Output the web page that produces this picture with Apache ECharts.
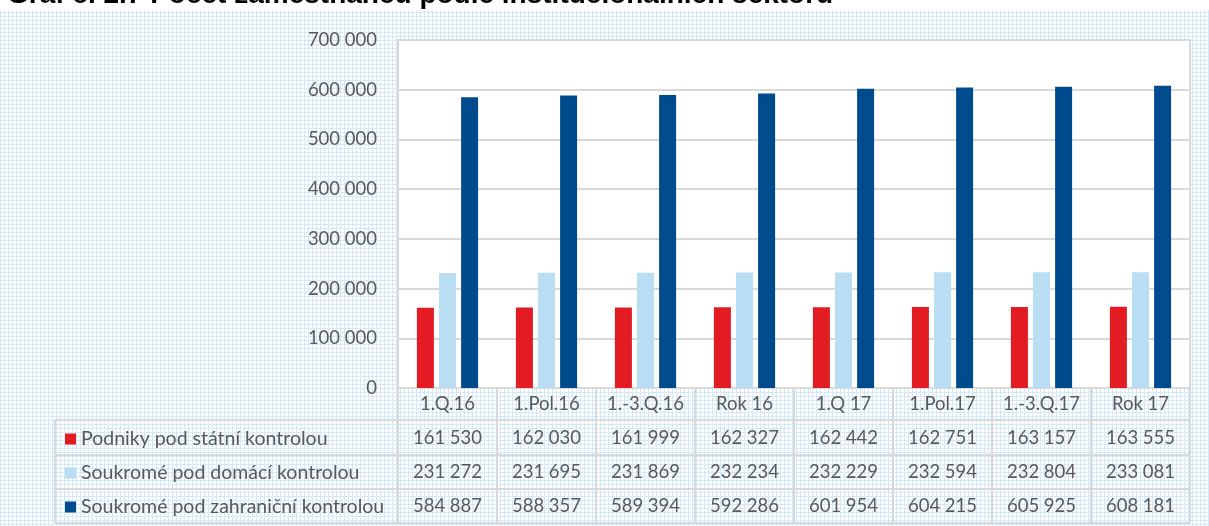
<!DOCTYPE html>
<html>
<head>
<meta charset="utf-8">
<script src="https://cdn.jsdelivr.net/npm/echarts@6/dist/echarts.min.js"></script>
<style>html,body{margin:0;padding:0;}#c{width:1209px;height:526px;}</style>
</head>
<body>
<div id="c"></div>
<script>
const categories = ['1.Q.16','1.Pol.16','1.-3.Q.16','Rok 16','1.Q 17','1.Pol.17','1.-3.Q.17','Rok 17'];
const seriesNames = ['Podniky pod státní kontrolou','Soukromé pod domácí kontrolou','Soukromé pod zahraniční kontrolou'];
const stateCtrl = [161530,162030,161999,162327,162442,162751,163157,163555];
const domesticCtrl = [231272,231695,231869,232234,232229,232594,232804,233081];
const foreignCtrl = [584887,588357,589394,592286,601954,604215,605925,608181];
const titleText = 'Graf č. 2.7 Počet zaměstnanců podle institucionálních sektorů';

const FONT = 'Lato';
const TXT = '#595959';
const LINE = '#d9d9d9';
const colors = ['#e31b23','#b9ddf3','#004b8d'];
const fmt = v => String(v).replace(/\B(?=(\d{3})+(?!\d))/g, ' ');

// background pattern tile
const tile = document.createElement('canvas');
tile.width = 4; tile.height = 4;
const tc = tile.getContext('2d');
tc.fillStyle = '#ffffff'; tc.fillRect(0,0,4,4);
tc.fillStyle = '#d3e8f8'; tc.fillRect(0,0,4,1); tc.fillRect(0,0,1,4);

const G = {left:398, right:1190, top:40, bottom:388};
const rowY = [420, 455, 489, 523];
const tableLeft = 55;

const chart = echarts.init(document.getElementById('c'), null, {renderer:'canvas'});
const gfx = [];
gfx.push({type:'rect', shape:{x:0, y:0, width:1209, height:10}, style:{fill:'#ffffff'}, z:1});
rowY.forEach(y => gfx.push({type:'line', shape:{x1:tableLeft, y1:y, x2:G.right, y2:y}, style:{stroke:LINE, lineWidth:2}, z:10}));
gfx.push({type:'line', shape:{x1:tableLeft, y1:rowY[0], x2:tableLeft, y2:rowY[3]}, style:{stroke:LINE, lineWidth:2}, z:10});
gfx.push({type:'line', shape:{x1:G.left, y1:G.bottom, x2:G.left, y2:rowY[3]}, style:{stroke:LINE, lineWidth:2}, z:10});
gfx.push({type:'text', x:7, y:-19, style:{text:titleText, font:'bold 28px "Liberation Sans"', fill:'#000'}, z:20});

chart.setOption({
  backgroundColor: {image: tile, repeat: 'repeat'},
  textStyle: {fontFamily: FONT},
  animation: false,
  grid: {left:G.left, right:1209-G.right, top:G.top, bottom:526-G.bottom, show:true, backgroundColor:'#ffffff', borderColor:LINE, borderWidth:2, containLabel:false},
  legend: {
    orient:'vertical', left:60, top:424, itemGap:14, itemWidth:11, itemHeight:11, icon:'rect',
    textStyle:{color:TXT, fontSize:19.5, lineHeight:20, fontFamily:FONT},
    data: seriesNames
  },
  xAxis: {
    type:'category', data:categories, boundaryGap:true,
    axisLine:{show:true, lineStyle:{color:LINE, width:2}},
    axisTick:{show:true, interval:0, length:135, lineStyle:{color:LINE, width:2}},
    axisLabel:{
      interval:0, margin:0, color:TXT,
      formatter:(v,i)=>`{h|${v}}\n{v|${fmt(stateCtrl[i])}}\n{v|${fmt(domesticCtrl[i])}}\n{v|${fmt(foreignCtrl[i])}}`,
      rich:{h:{fontSize:18.5, lineHeight:33, color:TXT, fontFamily:FONT}, v:{fontSize:18.5, lineHeight:34, color:TXT, fontFamily:FONT}}
    }
  },
  yAxis: {
    type:'value', min:0, max:700000, interval:100000,
    axisLine:{show:false}, axisTick:{show:false},
    splitLine:{lineStyle:{color:LINE, width:2}},
    axisLabel:{formatter:v=>fmt(v), color:TXT, fontSize:18.5, margin:21, fontFamily:FONT}
  },
  graphic: gfx,
  series: [
    {name:seriesNames[0], type:'bar', data:stateCtrl, barWidth:17, barGap:'30%', itemStyle:{color:colors[0]}},
    {name:seriesNames[1], type:'bar', data:domesticCtrl, barWidth:17, barGap:'30%', itemStyle:{color:colors[1]}},
    {name:seriesNames[2], type:'bar', data:foreignCtrl, barWidth:17, barGap:'30%', itemStyle:{color:colors[2]}}
  ]
});
</script>
</body>
</html>
